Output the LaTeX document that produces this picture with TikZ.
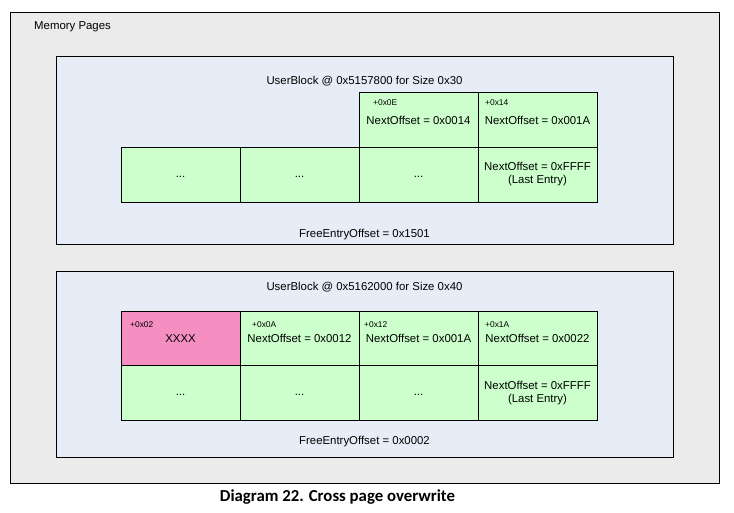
\documentclass[tikz,border=0pt]{standalone}
\usepackage{fontspec}
\setmainfont{Liberation Sans}
\newfontfamily\captionfont{Carlito}
\usetikzlibrary{positioning}
\definecolor{pagegray}{RGB}{235,235,235}
\definecolor{blockblue}{RGB}{230,237,247}
\definecolor{cellgreen}{RGB}{204,255,204}
\definecolor{cellpink}{RGB}{245,143,194}
\newcommand{\cellfont}{\fontsize{11.4}{13}\selectfont}
\newcommand{\tinyfont}{\fontsize{8.4}{9}\selectfont}
\newcommand{\moredots}{\vphantom{Ag}...}

\begin{document}
\begin{tikzpicture}[x=1pt,y=1pt]
		\tikzstyle{every node}+=[inner sep=0pt]
		\tikzstyle{cell}=[draw=black, line width=0.8pt, fill=cellgreen, minimum width=119pt, minimum height=55pt, align=center, font=\cellfont]
		\tikzstyle{offs}=[anchor=west, font=\tinyfont]
		\useasboundingbox (0,0) rectangle (734,-512);
		% memory pages
		\draw [black, line width=0.8pt, fill=pagegray] (10,-12) rectangle (719,-483);
		\node [anchor=west, font=\cellfont] (pages) at (34,-27) {Memory Pages};
		% first user block
		\draw [black, line width=0.8pt, fill=blockblue] (56,-56) rectangle (673,-244);
		\node [font=\cellfont] (ubA) at (364.5,-81) {UserBlock @ 0x5157800 for Size 0x30};
		\node [cell] (a3) at (418.5,-120) {NextOffset = 0x0014};
		\node [cell] (a4) at (537.5,-120) {NextOffset = 0x001A};
		\node [cell] (a5) at (180.5,-174.5) {\moredots};
		\node [cell] (a6) at (299.5,-174.5) {\moredots};
		\node [cell] (a7) at (418.5,-174.5) {\moredots};
		\node [cell] (a8) at (537.5,-174.5) {NextOffset = 0xFFFF\\(Last Entry)};
		\node [offs] (oa3) at (373,-103) {+0x0E};
		\node [offs] (oa4) at (485,-103) {+0x14};
		\node [font=\cellfont] (feA) at (364.5,-235) {FreeEntryOffset = 0x1501};
		% second user block
		\draw [black, line width=0.8pt, fill=blockblue] (56,-271) rectangle (673,-457);
		\node [font=\cellfont] (ubB) at (364.5,-287) {UserBlock @ 0x5162000 for Size 0x40};
		\node [cell, fill=cellpink] (b1) at (180.5,-338.5) {XXXX};
		\node [cell] (b2) at (299.5,-338.5) {NextOffset = 0x0012};
		\node [cell] (b3) at (418.5,-338.5) {NextOffset = 0x001A};
		\node [cell] (b4) at (537.5,-338.5) {NextOffset = 0x0022};
		\node [cell] (b5) at (180.5,-393) {\moredots};
		\node [cell] (b6) at (299.5,-393) {\moredots};
		\node [cell] (b7) at (418.5,-393) {\moredots};
		\node [cell] (b8) at (537.5,-393) {NextOffset = 0xFFFF\\(Last Entry)};
		\node [offs] (ob1) at (130,-325) {+0x02};
		\node [offs] (ob2) at (252,-325) {+0x0A};
		\node [offs] (ob3) at (364,-325) {+0x12};
		\node [offs] (ob4) at (485,-325) {+0x1A};
		\node [font=\cellfont] (feB) at (364.5,-442) {FreeEntryOffset = 0x0002};
		% caption
		\node [font=\captionfont\bfseries\fontsize{16.8}{19}\selectfont] (cap) at (337.5,-497) {Diagram 22. Cross page overwrite};
\end{tikzpicture}
\end{document}
